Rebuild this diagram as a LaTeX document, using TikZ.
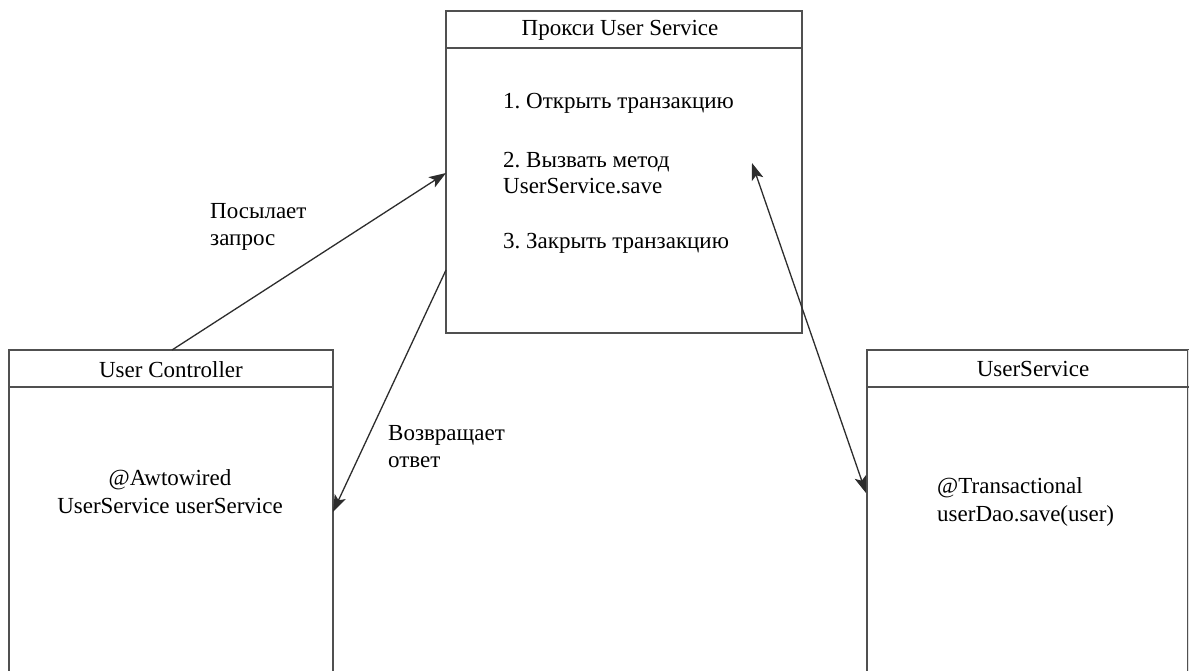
\documentclass[tikz,border=0pt]{standalone}
\usepackage{fontspec}
\setmainfont{Liberation Serif}
\frenchspacing
\usetikzlibrary{arrows.meta}
\definecolor{boxline}{RGB}{80,80,80}
\definecolor{arrline}{RGB}{45,45,45}
\definecolor{faint}{RGB}{225,225,225}
\tikzset{
  frame/.style={draw=boxline, line width=1.7pt, rectangle, inner sep=0pt},
  hdr/.style={draw=boxline, line width=1.7pt},
  txt/.style={inner sep=0pt, font=\fontsize{23}{26}\selectfont},
  tip/.tip={Stealth[length=17pt,width=12pt,inset=4pt]},
  conn/.style={draw=arrline, line width=1.3pt, -tip},
  conn2/.style={draw=arrline, line width=1.3pt, tip-tip}
}
\begin{document}
\begin{tikzpicture}[x=1pt,y=-1pt]
\useasboundingbox (0,0) rectangle (1189,670);
\fill[white] (0,0) rectangle (1189,670);
\clip (0,0) rectangle (1189,670);

% Proxy box
\node[frame, minimum width=356pt, minimum height=322pt] (proxy) at (624,172) {};
\draw[hdr] (446,48) -- (802,48);
\node[txt, anchor=base] (ptitle) at (620,35) {Прокси User Service};
\node[txt, anchor=base west] (p1) at (503,108) {1. Открыть транзакцию};
\node[txt, anchor=base west] (p2) at (503,167) {2. Вызвать метод};
\node[txt, anchor=base west] (p3) at (503,193) {UserService.save};
\node[txt, anchor=base west] (p4) at (503,248) {3. Закрыть транзакцию};

% User Controller box
\node[frame, minimum width=324pt, minimum height=360pt] (ctrl) at (171,530) {};
\draw[hdr] (9,387) -- (333,387);
\node[txt, anchor=base] (ctitle) at (171,377) {User Controller};
\node[txt, anchor=base] (c1) at (170,485) {@Awtowired};
\node[txt, anchor=base] (c2) at (170,513) {UserService userService};

% UserService box
\node[frame, minimum width=321pt, minimum height=360pt] (svc) at (1027.5,530) {};
\draw[faint, line width=1.7pt] (svc.north east) ++(0,1) -- (svc.south east);
\draw[hdr] (867,387) -- (1189,387);
\node[txt, anchor=base] (stitle) at (1033,376) {UserService};
\node[txt, anchor=base west] (s1) at (937,493) {@Transactional};
\node[txt, anchor=base west] (s2) at (937,521) {userDao.save(user)};

% connector end points
\coordinate (a1s) at (172,350);
\coordinate (a1e) at (446,173);
\coordinate (a2s) at (446,270);
\coordinate (a2e) at (333,512);
\coordinate (a3s) at (752,163);
\coordinate (a3e) at (866,493);

\draw[conn] (a1s) -- (a1e);
\draw[conn] (a2s) -- (a2e);
\draw[conn2] (a3s) -- (a3e);

% labels
\node[txt, anchor=base west] (l1) at (210,218) {Посылает};
\node[txt, anchor=base west] (l2) at (210,245) {запрос};
\node[txt, anchor=base west] (l3) at (388,440) {Возвращает};
\node[txt, anchor=base west] (l4) at (388,467) {ответ};
\end{tikzpicture}
\end{document}
